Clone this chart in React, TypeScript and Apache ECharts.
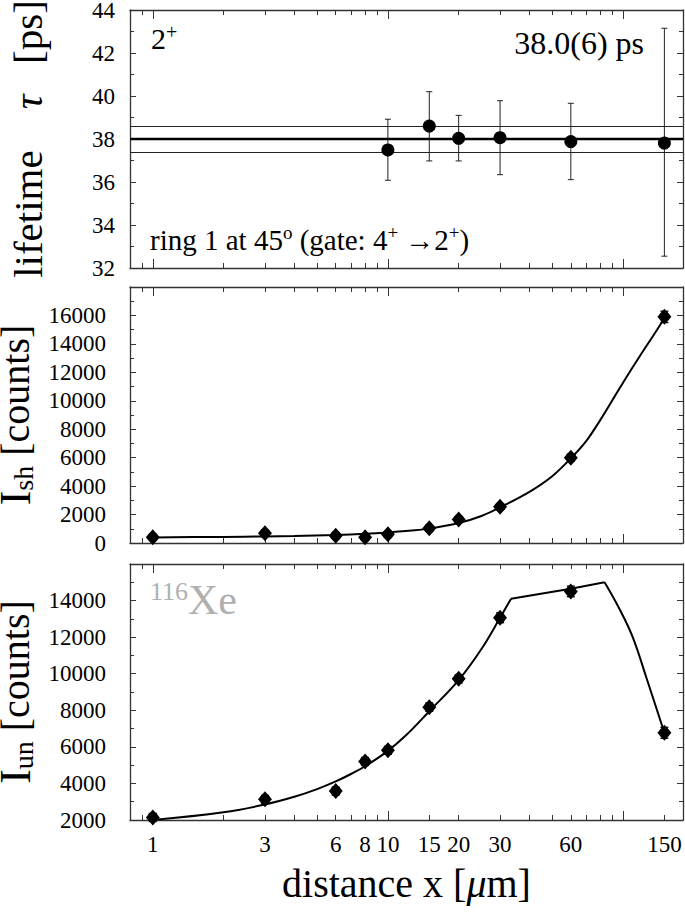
import React, { useEffect, useRef } from "react";
import * as echarts from "echarts";

// ---------- data ----------
const xTickLabels = [1, 3, 6, 8, 10, 15, 20, 30, 60, 150];
const xMinorTicks = [0.9, 2, 3, 4, 5, 6, 7, 8, 9, 20, 30, 40, 50, 60, 70, 80, 90];
const xExtraBottomTicks = [15, 150];
const xMajorTicks = [1, 10, 100];
const xRange = [0.8, 180];

// panel 1: lifetime
const tauDistances = [10, 15, 20, 30, 60, 150];
const tauValues = [37.49, 38.6, 38.03, 38.06, 37.88, 37.81];
const tauLow = [36.08, 36.98, 36.98, 36.34, 36.11, 32.55];
const tauHigh = [38.92, 40.2, 39.1, 39.78, 39.66, 43.15];
const tauMean = 38.0;
const tauBandLow = 37.4;
const tauBandHigh = 38.6;

// panel 2: shifted intensity
const distances = [1, 3, 6, 8, 10, 15, 20, 30, 60, 150];
const ishValues = [400, 680, 510, 400, 610, 1030, 1650, 2550, 6000, 15900];
const ishErrors = [180, 180, 180, 180, 180, 180, 200, 200, 250, 400];
const ishFitX = [1, 2, 3, 4, 6, 8, 10, 13, 15, 20, 25, 30, 40, 50, 60, 70, 80, 90, 100, 118, 134, 150];
const ishFitY = [395, 430, 465, 500, 570, 645, 740, 890, 1010, 1400, 1900, 2500, 3600, 4700, 5950, 7200, 8640, 10020, 11270, 13150, 14540, 15800];

// panel 3: unshifted intensity
const iunValues = [2140, 3130, 3580, 5200, 5810, 8170, 9720, 13060, 14500, 6770];
const iunErrors = [220, 220, 220, 220, 220, 230, 230, 270, 290, 300];
const iunRiseX = [1, 2, 3, 4, 5, 6, 7, 8, 10, 12, 15, 20, 25, 30, 33.4];
const iunRiseY = [2000, 2420, 2850, 3270, 3690, 4110, 4530, 4940, 5780, 6660, 7950, 9650, 11350, 13060, 14100];
const iunPlateauX = [33.4, 60, 83.5];
const iunPlateauY = [14100, 14650, 15000];
const iunFallX = [83.5, 97, 110, 126, 150];
const iunFallY = [15000, 13500, 12000, 9750, 6770];

// ---------- helpers ----------
const FONT = '"Liberation Serif", "DejaVu Serif", serif';
const lg = (v: number) => Math.log10(v);
const AXIS_COLOR = "#333";

function xAxesFor(gridIndex: number, bottomLabels: boolean) {
  const base = {
    type: "value",
    gridIndex,
    min: lg(xRange[0]),
    max: lg(xRange[1]),
    splitLine: { show: false },
  };
  const minorTicks = bottomLabels ? xMinorTicks.concat(xExtraBottomTicks) : xMinorTicks;
  const lineStyle = { color: AXIS_COLOR, width: 1.3 };
  const bottomMinor: any = {
    ...base,
    position: "bottom",
    axisLine: { show: true, onZero: false, lineStyle },
    axisTick: { show: true, inside: true, length: 5, customValues: minorTicks.map(lg), lineStyle: { color: AXIS_COLOR, width: 1 } },
    axisLabel: bottomLabels
      ? {
          show: true,
          customValues: xTickLabels.map(lg),
          formatter: (v: number) => String(Math.round(Math.pow(10, v))),
          fontFamily: FONT,
          fontSize: 23,
          color: "#000",
          margin: 13,
        }
      : { show: false },
  };
  if (bottomLabels) {
    bottomMinor.name = "{t|distance x [}{mu|μ}{t|m]}";
    bottomMinor.nameLocation = "middle";
    bottomMinor.nameGap = 43;
    bottomMinor.nameTextStyle = {
      fontFamily: FONT,
      fontSize: 40,
      color: "#000",
      rich: {
        t: { fontFamily: FONT, fontSize: 40, color: "#000" },
        mu: { fontFamily: FONT, fontSize: 40, fontStyle: "italic", color: "#000" },
      },
    };
  }
  const bottomMajor = {
    ...base,
    position: "bottom",
    axisLine: { show: false, onZero: false },
    axisTick: { show: true, inside: true, length: 9, customValues: xMajorTicks.map(lg), lineStyle: { color: AXIS_COLOR, width: 1 } },
    axisLabel: { show: false },
  };
  const topMinor = {
    ...base,
    position: "top",
    axisLine: { show: true, onZero: false, lineStyle },
    axisTick: { show: true, inside: true, length: 5, customValues: xMinorTicks.map(lg), lineStyle: { color: AXIS_COLOR, width: 1 } },
    axisLabel: { show: false },
  };
  const topMajor = {
    ...base,
    position: "top",
    axisLine: { show: false, onZero: false },
    axisTick: { show: true, inside: true, length: 9, customValues: xMajorTicks.map(lg), lineStyle: { color: AXIS_COLOR, width: 1 } },
    axisLabel: { show: false },
  };
  return [bottomMinor, bottomMajor, topMinor, topMajor];
}

function yAxesFor(gridIndex: number, min: number, max: number, interval: number, hideMax: boolean, name: string, rich: any, nameGap: number, labelMargin: number) {
  const common = {
    type: "value",
    gridIndex,
    min,
    max,
    interval,
    splitLine: { show: false },
    axisLine: { show: true, onZero: false, lineStyle: { color: AXIS_COLOR, width: 1.3 } },
    axisTick: { show: true, inside: true, length: 6, lineStyle: { color: AXIS_COLOR, width: 1 } },
    minorTick: { show: true, splitNumber: 2, length: 4, lineStyle: { color: AXIS_COLOR, width: 1 } },
  };
  return [
    {
      ...common,
      position: "left",
      axisLabel: {
        show: true,
        fontFamily: FONT,
        fontSize: 23,
        color: "#000",
        margin: labelMargin,
        formatter: (v: number) => (hideMax && v === max ? "" : String(v)),
      },
      name,
      nameLocation: "middle",
      nameRotate: 90,
      nameGap,
      nameTextStyle: { fontFamily: FONT, fontSize: 40, color: "#000", rich },
    },
    { ...common, position: "right", axisLabel: { show: false } },
  ];
}

function errorBarRender(kind: "dot" | "diamond") {
  return (params: any, api: any) => {
    const x = api.value(0);
    const y = api.value(1);
    const lo = api.value(2);
    const hi = api.value(3);
    const p = api.coord([x, y]);
    const pl = api.coord([x, lo]);
    const ph = api.coord([x, hi]);
    const cap = kind === "dot" ? 3 : 4;
    const lw = kind === "dot" ? 1 : 1.3;
    const stroke = kind === "dot" ? "#222" : "#000";
    const children: any[] = [
      { type: "line", shape: { x1: p[0], y1: pl[1], x2: p[0], y2: ph[1] }, style: { stroke, lineWidth: lw } },
      { type: "line", shape: { x1: p[0] - cap, y1: pl[1], x2: p[0] + cap, y2: pl[1] }, style: { stroke, lineWidth: lw } },
      { type: "line", shape: { x1: p[0] - cap, y1: ph[1], x2: p[0] + cap, y2: ph[1] }, style: { stroke, lineWidth: lw } },
    ];
    if (kind === "dot") {
      children.push({ type: "circle", shape: { cx: p[0], cy: p[1], r: 6.5 }, style: { fill: "#000" } });
    } else {
      children.push({
        type: "polygon",
        shape: { points: [[p[0], p[1] - 8], [p[0] + 7, p[1]], [p[0], p[1] + 8], [p[0] - 7, p[1]]] },
        style: { fill: "#000" },
      });
      children.push({ type: "circle", shape: { cx: p[0], cy: p[1], r: 5.3 }, style: { fill: "#000" } });
    }
    return { type: "group", children };
  };
}

const curveStyle = { color: "#000", width: 2 };

export default function App() {
  const ref = useRef<HTMLDivElement>(null);
  useEffect(() => {
    if (!ref.current) return;
    const chart = echarts.init(ref.current, undefined, { renderer: "svg" });

    const tauData = tauDistances.map((d, i) => [lg(d), tauValues[i], tauLow[i], tauHigh[i]]);
    const ishData = distances.map((d, i) => [lg(d), ishValues[i], ishValues[i] - ishErrors[i], ishValues[i] + ishErrors[i]]);
    const iunData = distances.map((d, i) => [lg(d), iunValues[i], iunValues[i] - iunErrors[i], iunValues[i] + iunErrors[i]]);

    const countsRich = {
      I: { fontFamily: FONT, fontSize: 44, color: "#000" },
      sub: { fontFamily: FONT, fontSize: 28, color: "#000", verticalAlign: "bottom", lineHeight: 32 },
      t: { fontFamily: FONT, fontSize: 40, color: "#000" },
    };

    const gridBase = { left: 130, right: 2, outerBoundsMode: "none", containLabel: false };

    const option: any = {
      animation: false,
      backgroundColor: "#fff",
      grid: [
        { ...gridBase, top: 10, height: 258 },
        { ...gridBase, top: 287, height: 256 },
        { ...gridBase, top: 564, height: 256 },
      ],
      xAxis: [...xAxesFor(0, false), ...xAxesFor(1, false), ...xAxesFor(2, true)],
      yAxis: [
        ...yAxesFor(0, 32, 44, 2, false, "{t|lifetime}{t|\u2003}{tau|τ}{t|\u2002 }{t|[ps]}", {
          t: { fontFamily: FONT, fontSize: 41, color: "#000" },
          tau: { fontFamily: FONT, fontSize: 41, fontStyle: "italic", color: "#000" },
        }, 82, 15),
        ...yAxesFor(1, 0, 18000, 2000, true, "{I|I}{sub|sh}{t| [counts]}", countsRich, 68, 24),
        ...yAxesFor(2, 2000, 16000, 2000, true, "{I|I}{sub|un}{t| [counts]}", countsRich, 68, 24),
      ],
      series: [
        {
          type: "line",
          xAxisIndex: 0,
          yAxisIndex: 0,
          data: [],
          z: 1,
          markLine: {
            silent: true,
            symbol: "none",
            label: { show: false },
            data: [
              { yAxis: tauMean, lineStyle: { color: "#000", width: 2.4, type: "solid" } },
              { yAxis: tauBandHigh, lineStyle: { color: "#222", width: 1, type: "solid" } },
              { yAxis: tauBandLow, lineStyle: { color: "#222", width: 1, type: "solid" } },
            ],
          },
        },
        {
          type: "custom",
          xAxisIndex: 0,
          yAxisIndex: 0,
          z: 5,
          renderItem: errorBarRender("dot"),
          data: tauData,
        },
        {
          type: "line",
          xAxisIndex: 4,
          yAxisIndex: 2,
          showSymbol: false,
          smooth: 0.3,
          lineStyle: curveStyle,
          data: ishFitX.map((d, i) => [lg(d), ishFitY[i]]),
          z: 3,
        },
        {
          type: "custom",
          xAxisIndex: 4,
          yAxisIndex: 2,
          z: 5,
          renderItem: errorBarRender("diamond"),
          data: ishData,
        },
        {
          type: "line",
          xAxisIndex: 8,
          yAxisIndex: 4,
          showSymbol: false,
          smooth: 0.4,
          lineStyle: curveStyle,
          data: iunRiseX.map((d, i) => [lg(d), iunRiseY[i]]),
          z: 3,
        },
        {
          type: "line",
          xAxisIndex: 8,
          yAxisIndex: 4,
          showSymbol: false,
          lineStyle: curveStyle,
          data: iunPlateauX.map((d, i) => [lg(d), iunPlateauY[i]]),
          z: 3,
        },
        {
          type: "line",
          xAxisIndex: 8,
          yAxisIndex: 4,
          showSymbol: false,
          smooth: 0.4,
          lineStyle: curveStyle,
          data: iunFallX.map((d, i) => [lg(d), iunFallY[i]]),
          z: 3,
        },
        {
          type: "custom",
          xAxisIndex: 8,
          yAxisIndex: 4,
          z: 5,
          renderItem: errorBarRender("diamond"),
          data: iunData,
        },
      ],
      graphic: [
        {
          type: "text",
          x: 151,
          y: 22,
          style: {
            text: "{n|2}{s|+}",
            rich: {
              n: { fontFamily: FONT, fontSize: 30, fill: "#000", lineHeight: 32 },
              s: { fontFamily: FONT, fontSize: 20, fill: "#000", verticalAlign: "top", lineHeight: 16 },
            },
          },
        },
        {
          type: "text",
          x: 644,
          y: 27,
          style: {
            text: "38.0(6) ps",
            fontFamily: FONT,
            fontSize: 32,
            fill: "#000",
            align: "right",
          },
        },
        {
          type: "text",
          x: 150,
          y: 223,
          style: {
            text: "{n|ring 1 at 45}{s|o}{n| (gate: 4}{s|+}{n| →2}{s|+}{n|)}",
            rich: {
              n: { fontFamily: FONT, fontSize: 29, fill: "#000", lineHeight: 34 },
              s: { fontFamily: FONT, fontSize: 19, fill: "#000", verticalAlign: "top", lineHeight: 17 },
            },
          },
        },
        {
          type: "text",
          x: 150,
          y: 578,
          style: {
            text: "{s|116}{n|Xe}",
            rich: {
              n: { fontFamily: FONT, fontSize: 42, fill: "#b0b0b0", lineHeight: 44 },
              s: { fontFamily: FONT, fontSize: 26, fill: "#b0b0b0", verticalAlign: "top", lineHeight: 22 },
            },
          },
        },
      ],
    };
    chart.setOption(option);
    return () => chart.dispose();
  }, []);
  return (
    <div
      ref={ref}
      style={{ position: "absolute", left: 0, top: 0, width: 685, height: 912 }}
    />
  );
}
